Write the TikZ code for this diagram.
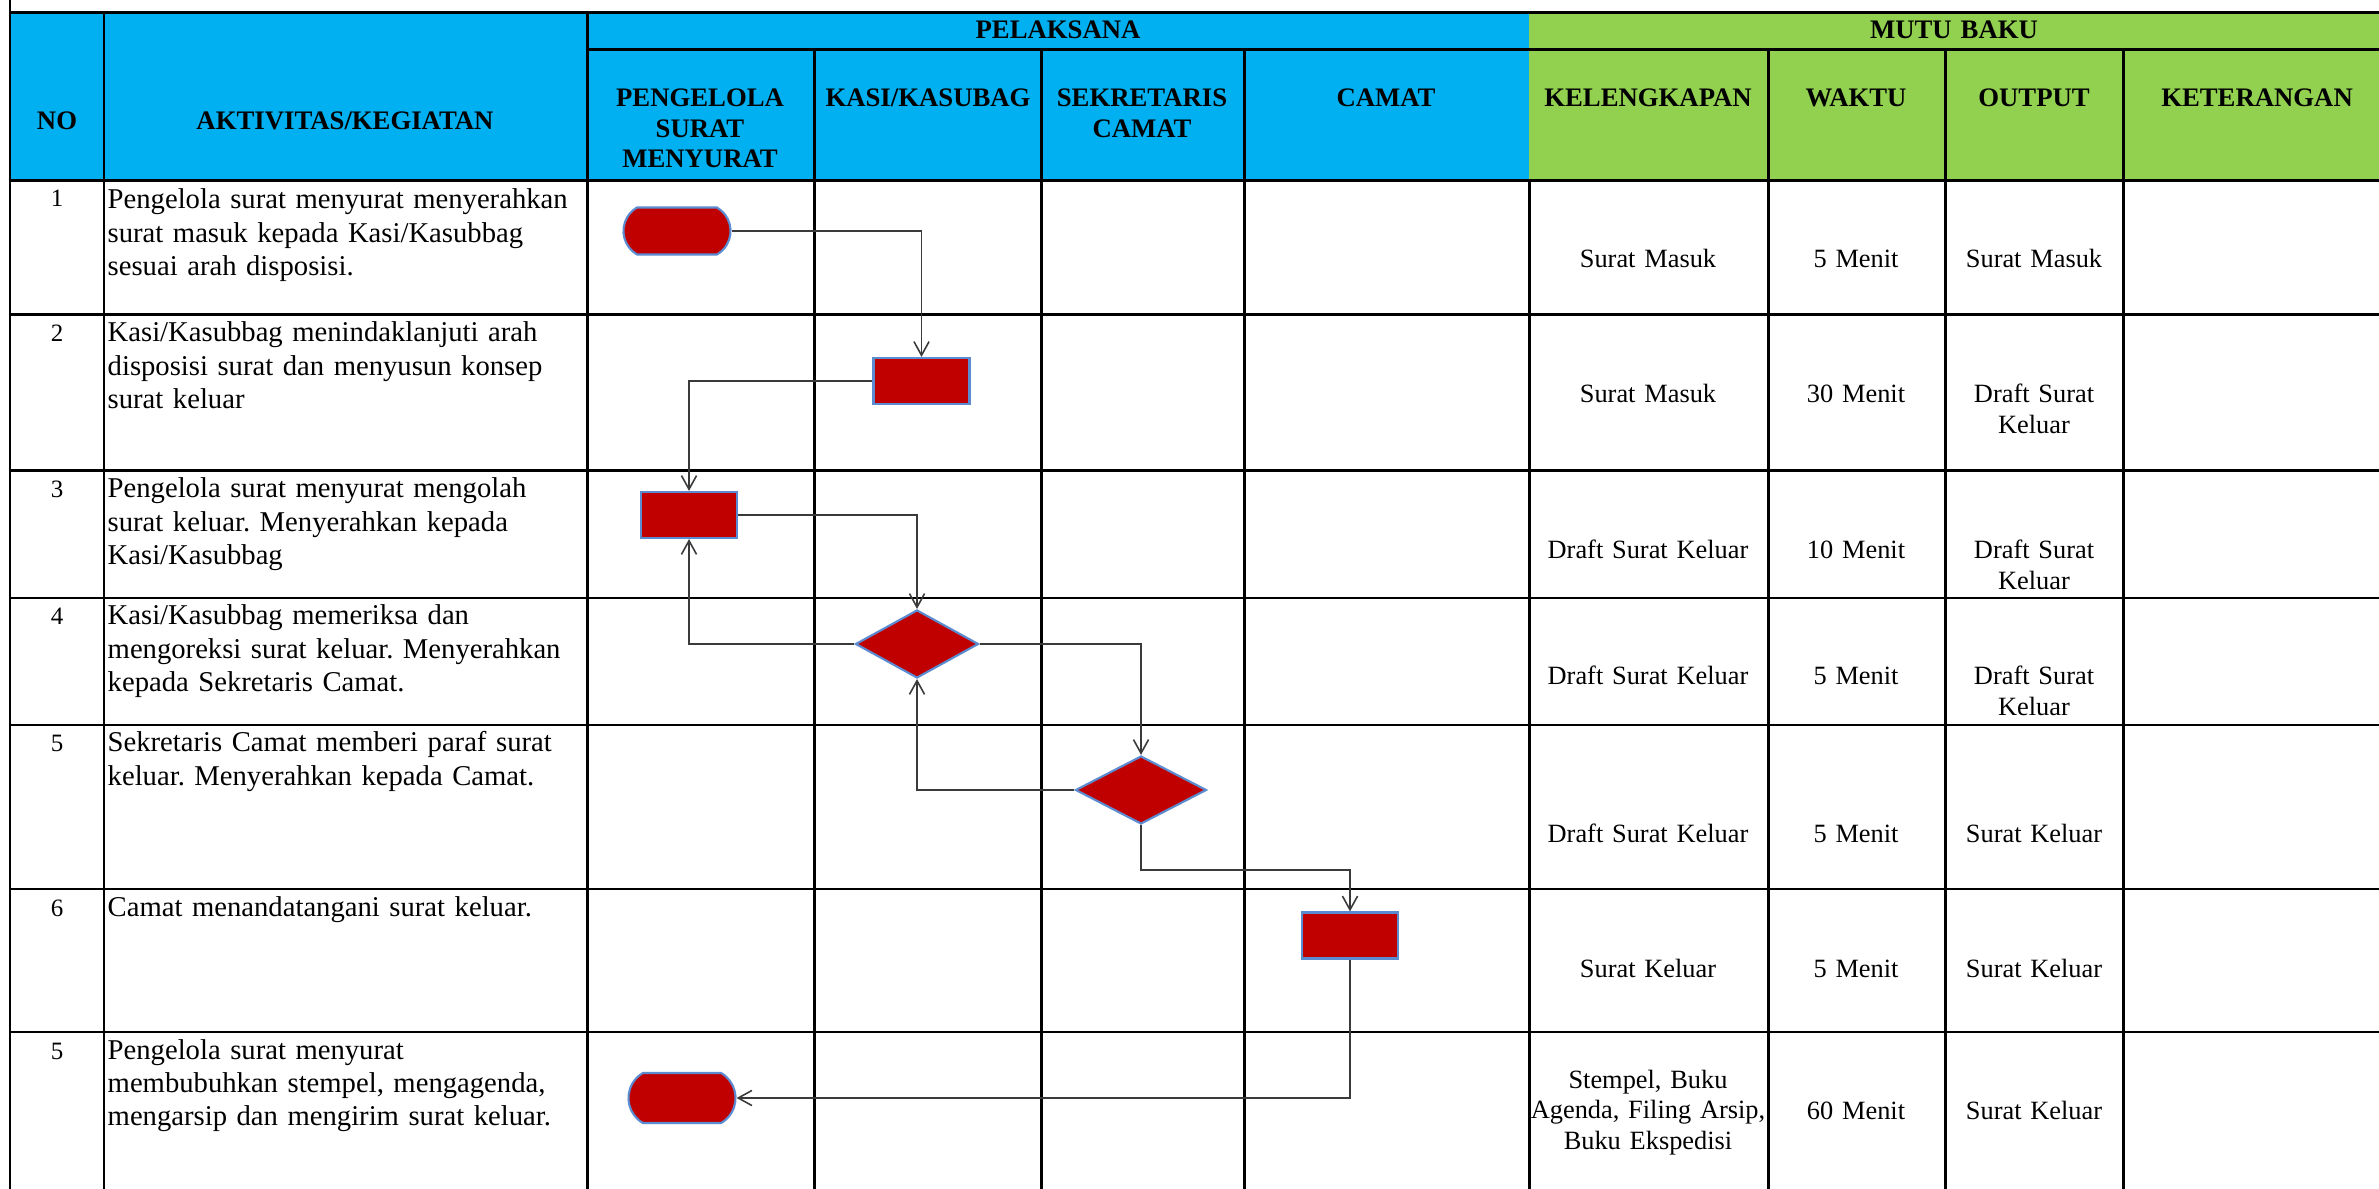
\documentclass[tikz,border=0pt]{standalone}
\usepackage{fontspec}
\setmainfont{Liberation Serif}
\frenchspacing
\usetikzlibrary{arrows.meta,shapes.geometric,shapes.misc}
\definecolor{headblue}{HTML}{00B0F0}
\definecolor{headgreen}{HTML}{92D050}
\definecolor{boxred}{HTML}{C00000}
\definecolor{boxline}{HTML}{5B8BD0}
\definecolor{wire}{HTML}{3A3A3A}

\begin{document}
\begin{tikzpicture}[x=0.01cm,y=-0.01cm,
    grid/.style={line width=0.85pt,draw=black},
    head/.style={inner sep=0pt,anchor=base,text width=3.2cm,align=center,font=\fontsize{7.6}{8.54}\selectfont\bfseries},
    num/.style={inner sep=0pt,anchor=base,font=\fontsize{7.1}{8.5}\selectfont},
    act/.style={inner sep=0pt,anchor=base west,text width=5cm,align=left,font=\fontsize{8.15}{9.39}\selectfont},
    std/.style={inner sep=0pt,anchor=base,text width=2.6cm,align=center,font=\fontsize{7.5}{8.68}\selectfont},
    term/.style={rounded rectangle,rounded rectangle arc length=120,draw=boxline,line width=0.6pt,fill=boxred,minimum width=1.07cm,minimum height=0.47cm,inner sep=0pt},
    proc/.style={rectangle,draw=boxline,line width=0.6pt,fill=boxred,minimum width=0.96cm,minimum height=0.46cm,inner sep=0pt},
    dec/.style={diamond,draw=boxline,line width=0.6pt,fill=boxred,minimum width=1.23cm,minimum height=0.68cm,inner sep=0pt},
    arr/.style={-{Straight Barb[length=3.9pt,width=4.3pt]},line width=0.45pt,draw=wire}]
    \useasboundingbox (0,0) rectangle (2379,1189);
    % header
    \fill[headblue] (10,13) rectangle (1529,181);
    \fill[headgreen] (1529,13) rectangle (2379,181);
    \draw[grid] (10,13) -- (2379,13); \draw[grid] (587,50) -- (2379,50); \draw[grid] (10,181) -- (2379,181);
    \draw[grid] (10,315) -- (2379,315); \draw[grid] (10,471) -- (2379,471); \draw[grid] (10,598) -- (2379,598);
    \draw[grid] (10,725) -- (2379,725); \draw[grid] (10,889) -- (2379,889); \draw[grid] (10,1032) -- (2379,1032);
    \draw[grid] (10,0) -- (10,1189); \draw[grid] (104,13) -- (104,1189); \draw[grid] (587,13) -- (587,1189);
    \draw[grid] (814,50) -- (814,1189); \draw[grid] (1041,50) -- (1041,1189); \draw[grid] (1244,50) -- (1244,1189);
    \draw[grid] (1529,181) -- (1529,1189); \draw[grid] (1768,50) -- (1768,1189);
    \draw[grid] (1945,50) -- (1945,1189); \draw[grid] (2123,50) -- (2123,1189);
    \node[head] (hno) at (57,130) {NO};
    \node[head] (hakt) at (345,130) {AKTIVITAS/KEGIATAN};
    \node[head] (hpel) at (1058,39) {PELAKSANA};
    \node[head] (hmutu) at (1954,39) {MUTU BAKU};
    \node[head] (hpsm) at (700,107) {PENGELOLA\\SURAT\\MENYURAT};
    \node[head] (hkasi) at (928,107) {KASI/KASUBAG};
    \node[head] (hsek) at (1142,107) {SEKRETARIS\\CAMAT};
    \node[head] (hcamat) at (1386,107) {CAMAT};
    \node[head] (hkel) at (1648,107) {KELENGKAPAN};
    \node[head] (hwkt) at (1856,107) {WAKTU};
    \node[head] (hout) at (2034,107) {OUTPUT};
    \node[head] (hket) at (2257,107) {KETERANGAN};
    % activities
    \node[num] (no1) at (57,207) {1};
    \node[act] (akt1) at (107,209) {Pengelola surat menyurat menyerahkan\\surat masuk kepada Kasi/Kasubbag\\sesuai arah disposisi.};
    \node[num] (no2) at (57,342) {2};
    \node[act] (akt2) at (107,342) {Kasi/Kasubbag menindaklanjuti arah\\disposisi surat dan menyusun konsep\\surat keluar};
    \node[num] (no3) at (57,498) {3};
    \node[act] (akt3) at (107,498) {Pengelola surat menyurat mengolah\\surat keluar. Menyerahkan kepada\\Kasi/Kasubbag};
    \node[num] (no4) at (57,625) {4};
    \node[act] (akt4) at (107,625) {Kasi/Kasubbag memeriksa dan\\mengoreksi surat keluar. Menyerahkan\\kepada Sekretaris Camat.};
    \node[num] (no5) at (57,752) {5};
    \node[act] (akt5) at (107,752) {Sekretaris Camat memberi paraf surat\\keluar. Menyerahkan kepada Camat.};
    \node[num] (no6) at (57,916) {6};
    \node[act] (akt6) at (107,916) {Camat menandatangani surat keluar.};
    \node[num] (no7) at (57,1059) {5};
    \node[act] (akt7) at (107,1059) {Pengelola surat menyurat\\membubuhkan stempel, mengagenda,\\mengarsip dan mengirim surat keluar.};
    % mutu baku
    \node[std] (kel1) at (1648,268) {Surat Masuk};
    \node[std] (wkt1) at (1856,268) {5 Menit};
    \node[std] (out1) at (2034,268) {Surat Masuk};
    \node[std] (kel2) at (1648,403) {Surat Masuk};
    \node[std] (wkt2) at (1856,403) {30 Menit};
    \node[std] (out2) at (2034,403) {Draft Surat\\Keluar};
    \node[std] (kel3) at (1648,559) {Draft Surat Keluar};
    \node[std] (wkt3) at (1856,559) {10 Menit};
    \node[std] (out3) at (2034,559) {Draft Surat\\Keluar};
    \node[std] (kel4) at (1648,685) {Draft Surat Keluar};
    \node[std] (wkt4) at (1856,685) {5 Menit};
    \node[std] (out4) at (2034,685) {Draft Surat\\Keluar};
    \node[std] (kel5) at (1648,843) {Draft Surat Keluar};
    \node[std] (wkt5) at (1856,843) {5 Menit};
    \node[std] (out5) at (2034,843) {Surat Keluar};
    \node[std] (kel6) at (1648,977) {Surat Keluar};
    \node[std] (wkt6) at (1856,977) {5 Menit};
    \node[std] (out6) at (2034,977) {Surat Keluar};
    \node[std] (kel7) at (1648,1088) {Stempel, Buku\\Agenda, Filing Arsip,\\Buku Ekspedisi};
    \node[std] (wkt7) at (1856,1119) {60 Menit};
    \node[std] (out7) at (2034,1119) {Surat Keluar};
    % flow
    \node[term] (t1) at (677,231) {};
    \node[proc] (r2) at (921.5,381) {};
    \node[proc] (r3) at (689,515) {};
    \node[dec] (d4) at (917,644) {};
    \node[dec,minimum width=1.31cm] (d5) at (1141,790) {};
    \node[proc] (r6) at (1350,935.5) {};
    \node[term,minimum height=0.5cm] (t7) at (682,1098) {};
    \draw[arr] (t1.east) -| (r2.north); \draw[arr] (r2.west) -| (r3.north);
    \draw[arr] (r3.east) -| (d4.north); \draw[arr] (d4.west) -| (r3.south);
    \draw[arr] (d4.east) -| (d5.north); \draw[arr] (d5.west) -| (d4.south);
    \draw[arr] (d5.south) -- ++(0,45) -| (r6.north); \draw[arr] (r6.south) |- (t7.east);
  \end{tikzpicture}
\end{document}
